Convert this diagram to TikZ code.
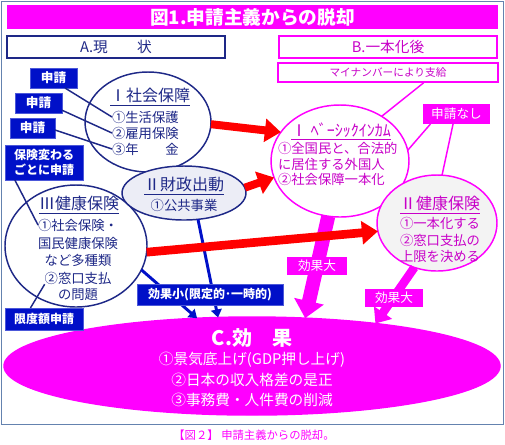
\documentclass[tikz,border=0pt]{standalone}
\usepackage{fontspec}
\setmainfont{Noto Sans CJK JP}
\usetikzlibrary{arrows.meta,shapes.geometric}
\definecolor{navy}{RGB}{30,40,135}
\definecolor{bfill}{RGB}{0,16,200}
\definecolor{mag}{RGB}{255,0,255}
\definecolor{mtext}{RGB}{200,0,200}
\definecolor{framec}{RGB}{100,130,175}
\definecolor{gfill}{RGB}{236,237,246}
\definecolor{pfill}{RGB}{243,243,243}
\definecolor{redc}{RGB}{255,0,0}
\newcommand{\fsz}[1]{\fontsize{#1}{#1}\selectfont}
\begin{document}
\begin{tikzpicture}[x=0.75pt,y=-0.75pt,
  txt/.style={inner sep=0pt, outer sep=0pt},
  bluebox/.style={fill=bfill, draw=bfill!70!white, line width=0.5pt, text=white, inner sep=0pt, outer sep=0pt, align=center, font=\fsz{9.5pt}\bfseries},
  magbox/.style={fill=mag, text=white, inner sep=0pt, outer sep=0pt, font=\fsz{9.5pt}},
  ell/.style={ellipse, inner sep=0pt, outer sep=0pt, line width=1.1pt},
  conn/.style={line width=1.1pt},
  redarrow/.style={draw=redc, line width=6pt, -{Triangle[length=12pt,width=17pt]}},
  bluearrow/.style={draw=bfill, line width=2.2pt, -{Triangle[length=6pt,width=8pt]}},
]
\useasboundingbox (0,0) rectangle (505,444);
\draw[framec, line width=1.4pt] (1.5,1.5) rectangle (503.5,424.5);

% title and headers
\node[fill=mag, minimum width=491*0.75pt, minimum height=24*0.75pt, inner sep=0pt, text=white, font=\fsz{14pt}\bfseries] (title) at (252.5,17) {図1.申請主義からの脱却};
\node[draw=navy, line width=1.2pt, fill=white, minimum width=218*0.75pt, minimum height=22*0.75pt, inner sep=0pt, text=navy, font=\fsz{11pt}] (abox) at (116,47) {A.現　　状};
\node[draw=mag, line width=1.2pt, fill=white, minimum width=218*0.75pt, minimum height=22*0.75pt, inner sep=0pt, text=mtext, font=\fsz{11pt}] (bbox) at (388,47) {B.一本化後};
\node[draw=mag, line width=1.1pt, fill=white, minimum width=220*0.75pt, minimum height=19*0.75pt, inner sep=0pt, text=mtext, font=\fsz{8pt}] (my) at (388,72.5) {マイナンバーにより支給};

% C ellipse
\node[ell, fill=mag, draw=mag, minimum width=496*0.75pt, minimum height=98*0.75pt] (e6) at (252,366) {};
\node[txt, text=white, font=\fsz{15pt}\bfseries] (c0) at (252,338) {C.効　果};
\node[txt, text=white, font=\fsz{11pt}] (c1) at (252,360) {①景気底上げ(GDP押し上げ)};
\node[txt, text=white, font=\fsz{11pt}] (c2) at (252,380) {②日本の収入格差の是正};
\node[txt, text=white, font=\fsz{11pt}] (c3) at (252,400) {③事務費・人件費の削減};

% left ellipses
\node[ell, draw=navy, fill=white, minimum width=126*0.75pt, minimum height=100*0.75pt] (e1) at (148,122) {};
\node[txt, text=navy, font=\fsz{12pt}] (t1) at (150,97) {\underline{Ⅰ社会保障}};
\node[txt, text=navy, font=\fsz{10pt}, anchor=west] (i1) at (112,117) {①生活保護};
\node[txt, text=navy, font=\fsz{10pt}, anchor=west] (i2) at (112,133) {②雇用保険};
\node[txt, text=navy, font=\fsz{10pt}, anchor=west] (i3) at (112,149) {③年　　金};

\node[ell, draw=navy, fill=white, minimum width=142*0.75pt, minimum height=122*0.75pt] (e3) at (76,246) {};
\node[txt, text=navy, font=\fsz{12pt}] (t3) at (79,205) {\underline{Ⅲ健康保険}};
\node[txt, text=navy, font=\fsz{10pt}] (j1) at (78,225) {①社会保険・};
\node[txt, text=navy, font=\fsz{10pt}] (j2) at (78,243) {国民健康保険};
\node[txt, text=navy, font=\fsz{10pt}] (j3) at (78,260) {など多種類};
\node[txt, text=navy, font=\fsz{10pt}] (j4) at (78,278) {②窓口支払};
\node[txt, text=navy, font=\fsz{10pt}] (j5) at (78,295) {の問題};

\node[ell, draw=navy, fill=gfill, minimum width=124*0.75pt, minimum height=54*0.75pt] (e2) at (184,193) {};
\node[txt, text=navy, font=\fsz{12pt}] (t2) at (184,186) {\underline{Ⅱ財政出動}};
\node[txt, text=navy, font=\fsz{10pt}] (k1) at (184,205) {①公共事業};

% right ellipses
\node[ell, draw=mag, fill=white, minimum width=138*0.75pt, minimum height=112*0.75pt] (e4) at (340,161) {};
\node[txt, text=mtext, font=\fsz{12pt}] (t4) at (341,131) {\underline{Ⅰ ﾍﾞｰｼｯｸｲﾝｶﾑ}};
\node[txt, text=mtext, font=\fsz{10pt}, anchor=west] (m1t) at (278,148) {①全国民と、合法的};
\node[txt, text=mtext, font=\fsz{10pt}, anchor=west] (m2t) at (278,164) {に居住する外国人};
\node[txt, text=mtext, font=\fsz{10pt}, anchor=west] (m3t) at (278,179) {②社会保障一本化};

\node[ell, draw=mag, fill=pfill, minimum width=120*0.75pt, minimum height=96*0.75pt] (e5) at (437,223) {};
\node[txt, text=mtext, font=\fsz{12pt}] (t5) at (440,205) {\underline{Ⅱ健康保険}};
\node[txt, text=mtext, font=\fsz{10pt}] (p1) at (440,223) {①一本化する};
\node[txt, text=mtext, font=\fsz{10pt}] (p2) at (440,240) {②窓口支払の};
\node[txt, text=mtext, font=\fsz{10pt}] (p3) at (440,256) {上限を決める};

% application boxes
\node[bluebox, minimum width=47*0.75pt, minimum height=20*0.75pt] (s1) at (53.5,78) {申請};
\node[bluebox, minimum width=47*0.75pt, minimum height=20*0.75pt] (s2) at (38.5,103) {申請};
\node[bluebox, minimum width=45*0.75pt, minimum height=20*0.75pt] (s3) at (32.5,128) {申請};
\node[bluebox, minimum width=78*0.75pt, minimum height=35*0.75pt, font=\fsz{9pt}\bfseries] (s4) at (44,162.5) {保険変わる\\[2pt]ごとに申請};
\node[bluebox, minimum width=78*0.75pt, minimum height=22*0.75pt, font=\fsz{9pt}\bfseries] (s5) at (44,319) {限度額申請};
\node[magbox, minimum width=67*0.75pt, minimum height=20*0.75pt] (nb) at (456.5,114) {申請なし};

\draw[conn, navy] (s1.-41) -- (i1.west);
\draw[conn, navy] (s2.-17) -- (i2.west);
\draw[conn, navy] (s3.-5) -- (i3.west);
\draw[conn, navy] (s4.-149) -- (j1.west);
\draw[conn, navy] (s5.141.8) -- (j4.south west);
\draw[conn, mag] (nb.-159.3) -- (e4.9.5);
\draw[conn, mag] (nb.-109) -- (e5.84);
\draw[conn, mag] (my.-16.5) -- (e4.47);

% magenta arrows
\draw[draw=mag, line width=10.5pt, -{Triangle[length=13pt,width=22pt]}] (e4.-102) -- (e6.42.2);
\draw[draw=mag, line width=6.5pt, -{Triangle[length=10pt,width=16pt]}] (e5.-117.5) -- (e6.19.5);
\node[magbox, minimum width=60*0.75pt, minimum height=18*0.75pt] (g1) at (317,266) {効果大};
\node[magbox, minimum width=58*0.75pt, minimum height=18*0.75pt] (g2) at (394,298) {効果大};

% blue arrows
\draw[bluearrow] (e3.-20.4) -- (e6.139.9);
\draw[bluearrow] (e2.-62.6) -- (e6.125.3);
\node[bluebox, minimum width=146*0.75pt, minimum height=21*0.75pt, font=\fsz{9pt}\bfseries] (small) at (210,294.5) {効果小(限定的･一時的)};

% red arrows
\draw[redarrow] (e1.-2) -- (e4.154);
\draw[redarrow] (e2.5) -- (e4.194);
\draw[redarrow, line width=6.5pt] (e3.-5) -- (e5.188);

\node[txt, text=mag, font=\fsz{8.5pt}] (cap) at (254,435) {【図２】 申請主義からの脱却。};
\end{tikzpicture}
\end{document}
